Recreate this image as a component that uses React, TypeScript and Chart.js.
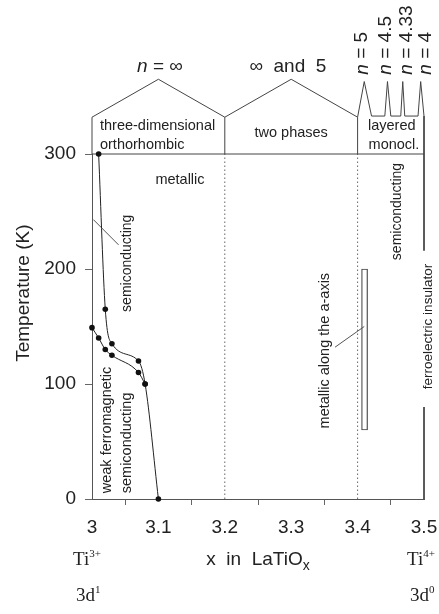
import React, { useEffect, useRef } from 'react';
import { Chart, registerables } from 'chart.js';

Chart.register(...registerables);

// ---- data ----
const xTickValues = [3, 3.1, 3.2, 3.3, 3.4, 3.5];
const yTickValues = [0, 100, 200, 300];

const upperX = [3.01, 3.02, 3.03, 3.07, 3.08, 3.1];
const upperT = [300, 165, 135, 120, 100, 0];
const lowerX = [3.0, 3.01, 3.02, 3.03, 3.07, 3.08];
const lowerT = [149, 140, 130, 125, 110, 100];

const boundaryX = [3.2, 3.4];
const boxX = [3.0, 3.0, 3.1, 3.2, 3.3, 3.4, 3.41, 3.421, 3.441, 3.445, 3.45, 3.465, 3.468, 3.471, 3.491, 3.495, 3.5, 3.5];
const boxT = [300, 332, 365, 332, 365, 332, 363, 333, 333, 363, 333, 333, 363, 333, 333, 363, 333, 300];
const boxTop = 332;
const topLineT = 300;

const barX = 3.4105;
const barRange = [60, 200];

const ferroX = 3.5;
const ferroUpper = [300, 216];
const ferroLower = [80, 0];

const leaderSemiX = [3.002, 3.04];
const leaderSemiT = [243, 221];
const leaderMetX = [3.366, 3.41];
const leaderMetT = [132, 150];

const nLabels = ['5', '4.5', '4.33', '4'];
const nLabelX = [3.407, 3.443, 3.474, 3.503];

const SANS = "'Liberation Sans', Arial, sans-serif";
const SERIF = "'Liberation Serif', 'Times New Roman', serif";
const TEXT = '#222';
const LINE = '#444';

function pts(xs: number[], ys: number[]) {
  return xs.map((x, i) => ({ x, y: ys[i] }));
}

function drawText(
  ctx: CanvasRenderingContext2D,
  s: string,
  x: number,
  y: number,
  font: string,
  align: CanvasTextAlign = 'center',
  rot = 0,
  baseline: CanvasTextBaseline = 'middle'
) {
  ctx.save();
  ctx.translate(x, y);
  ctx.rotate(rot);
  ctx.font = font;
  ctx.textAlign = align;
  ctx.textBaseline = baseline;
  ctx.fillStyle = TEXT;
  ctx.fillText(s, 0, 0);
  ctx.restore();
}

const annotations = {
  id: 'annotations',
  afterDatasetsDraw(chart: any) {
    const ctx: CanvasRenderingContext2D = chart.ctx;
    const xs = chart.scales.x;
    const ys = chart.scales.y;
    const X = (v: number) => xs.getPixelForValue(v);
    const Y = (v: number) => ys.getPixelForValue(v);
    const up = -Math.PI / 2;
    const f145 = `14.5px ${SANS}`;
    const f14 = `14px ${SANS}`;
    const f13 = `13.5px ${SANS}`;
    const f19 = `19px ${SANS}`;

    // y title
    drawText(ctx, 'Temperature (K)', ys.left + 24, Y(179), f19, 'center', up);

    // in-plot labels
    drawText(ctx, 'metallic', X(3.1325), Y(277), f145);
    drawText(ctx, 'semiconducting', X(3.0527), Y(205), f14, 'center', up);
    drawText(ctx, 'weak ferromagnetic', X(3.0226), Y(5), f145, 'left', up);
    drawText(ctx, 'semiconducting', X(3.0527), Y(5), f145, 'left', up);
    drawText(ctx, 'metallic along the a-axis', X(3.351), Y(129), f145, 'center', up);
    drawText(ctx, 'semiconducting', X(3.4593), Y(250), f14, 'center', up);
    drawText(ctx, 'ferroelectric insulator', X(3.506), Y(150), f13, 'center', up);

    // box labels
    drawText(ctx, 'three-dimensional', X(3.012), Y(324), f145, 'left');
    drawText(ctx, 'orthorhombic', X(3.012), Y(308), f145, 'left');
    drawText(ctx, 'two phases', X(3.3), Y(318), f145, 'center');
    drawText(ctx, 'layered', X(3.4157), Y(324), f145, 'left');
    drawText(ctx, 'monocl.', X(3.4165), Y(308), f145, 'left');

    // n = infinity
    ctx.save();
    ctx.font = `italic 19px ${SANS}`;
    const wn = ctx.measureText('n').width;
    ctx.font = f19;
    const wr = ctx.measureText(' = \u221E').width;
    ctx.restore();
    const cx = X(3.1024) - (wn + wr) / 2;
    drawText(ctx, 'n', cx, Y(376), `italic 19px ${SANS}`, 'left');
    drawText(ctx, ' = \u221E', cx + wn, Y(376), f19, 'left');
    drawText(ctx, '\u221E  and  5', X(3.295), Y(376), f19, 'center');

    // rotated n labels
    nLabels.forEach((lab, i) => {
      ctx.save();
      ctx.translate(X(nLabelX[i]), Y(369));
      ctx.rotate(up);
      ctx.fillStyle = TEXT;
      ctx.textBaseline = 'middle';
      ctx.textAlign = 'left';
      ctx.font = `italic 19px ${SANS}`;
      ctx.fillText('n', 0, 0);
      const w = ctx.measureText('n').width;
      ctx.font = f19;
      ctx.fillText(' = ' + lab, w, 0);
      ctx.restore();
    });

    // bottom labels
    const yAx = Y(-53);
    ctx.save();
    ctx.font = f19;
    const mainW = ctx.measureText('x  in  LaTiO').width;
    ctx.font = `14px ${SANS}`;
    const subW = ctx.measureText('x').width;
    ctx.restore();
    const sx = X(3.25) - (mainW + subW) / 2;
    drawText(ctx, 'x  in  LaTiO', sx, yAx, f19, 'left');
    drawText(ctx, 'x', sx + mainW, yAx + 6, `14px ${SANS}`, 'left');

    const ionLabel = (base: string, sup: string, xv: number, tv: number) => {
      const x0 = X(xv);
      const y0 = Y(tv);
      ctx.save();
      ctx.font = `19px ${SERIF}`;
      const w = ctx.measureText(base).width;
      ctx.restore();
      drawText(ctx, base, x0, y0, `19px ${SERIF}`, 'left', 0, 'alphabetic');
      drawText(ctx, sup, x0 + w, y0 - 8, `11px ${SERIF}`, 'left', 0, 'alphabetic');
    };
    ionLabel('Ti', '3+', 2.9714, -57.4);
    ionLabel('3d', '1', 2.9759, -88.8);
    ionLabel('Ti', '4+', 3.4744, -57.4);
    ionLabel('3d', '0', 3.4789, -88.8);
  },
};

export default function App() {
  const ref = useRef<HTMLCanvasElement>(null);

  useEffect(() => {
    if (!ref.current) return;
    const lineDs = (data: any[], extra: any = {}) => ({
      type: 'line',
      data,
      borderColor: LINE,
      borderWidth: 1,
      pointRadius: 0,
      fill: false,
      clip: false,
      spanGaps: false,
      ...extra,
    });

    const chart = new Chart(ref.current, {
      type: 'scatter',
      data: {
        datasets: [
          lineDs(pts(upperX, upperT), {
            borderColor: '#222',
            pointRadius: 2.8,
            pointBackgroundColor: '#111',
            pointBorderWidth: 0,
            cubicInterpolationMode: 'monotone',
          }),
          lineDs(pts(lowerX, lowerT), {
            borderColor: '#222',
            pointRadius: 2.8,
            pointBackgroundColor: '#111',
            pointBorderWidth: 0,
            cubicInterpolationMode: 'monotone',
          }),
          lineDs(pts(boxX, boxT)),
          lineDs([
            { x: boundaryX[0], y: topLineT },
            { x: boundaryX[0], y: boxTop },
            { x: boundaryX[0] + 0.0001, y: null },
            { x: boundaryX[1], y: topLineT },
            { x: boundaryX[1], y: boxTop },
          ]),
          lineDs([
            { x: xTickValues[0], y: topLineT },
            { x: xTickValues[xTickValues.length - 1], y: topLineT },
          ]),
          lineDs(
            [
              { x: boundaryX[0], y: 0 },
              { x: boundaryX[0], y: topLineT },
              { x: boundaryX[0] + 0.0001, y: null },
              { x: boundaryX[1], y: 0 },
              { x: boundaryX[1], y: topLineT },
            ],
            { borderDash: [1.5, 2.5], borderColor: '#666' }
          ),
          lineDs([
            { x: ferroX, y: ferroUpper[0] },
            { x: ferroX, y: ferroUpper[1] },
            { x: ferroX, y: null },
            { x: ferroX, y: ferroLower[0] },
            { x: ferroX, y: ferroLower[1] },
          ]),
          lineDs(pts(leaderSemiX, leaderSemiT), { borderColor: '#555' }),
          lineDs(pts(leaderMetX, leaderMetT), { borderColor: '#555' }),
          {
            type: 'bar',
            data: [{ x: barX, y: barRange }],
            backgroundColor: '#fff',
            borderColor: '#444',
            borderWidth: 1.2,
            borderSkipped: false,
            barThickness: 6,
            grouped: false,
            clip: false,
          },
        ] as any,
      },
      options: {
        animation: false,
        responsive: false,
        devicePixelRatio: 1,
        layout: { padding: { top: 154, right: 15, left: 0, bottom: 0 } },
        plugins: { legend: { display: false }, tooltip: { enabled: false } },
        scales: {
          x: {
            type: 'linear',
            min: 3,
            max: 3.5,
            offset: false,
            afterBuildTicks: (s: any) => {
              s.ticks = xTickValues.map((v) => ({ value: v }));
            },
            afterFit: (s: any) => {
              s.height = 115;
              s.paddingLeft = 0;
              s.paddingRight = 0;
            },
            ticks: {
              color: TEXT,
              font: { family: SANS, size: 19 },
              padding: 11,
              maxRotation: 0,
              autoSkip: false,
              callback: (v: any) => String(Math.round(Number(v) * 10) / 10),
            },
            grid: { display: true, drawOnChartArea: false, drawTicks: true, tickLength: 6, color: '#666' },
            border: { display: true, color: '#555', width: 1 },
          },
          y: {
            type: 'linear',
            min: 0,
            max: 300,
            afterBuildTicks: (s: any) => {
              s.ticks = yTickValues.map((v) => ({ value: v }));
            },
            afterFit: (s: any) => {
              s.width = 92;
              s.paddingTop = 0;
              s.paddingBottom = 0;
            },
            ticks: {
              color: TEXT,
              font: { family: SANS, size: 19 },
              padding: 9,
              autoSkip: false,
            },
            grid: { display: true, drawOnChartArea: false, drawTicks: true, tickLength: 7, color: '#666' },
            border: { display: true, color: '#555', width: 1 },
          },
        },
      },
      plugins: [annotations],
    } as any);
    return () => chart.destroy();
  }, []);

  return (
    <div style={{ position: 'absolute', left: 0, top: 0, width: 439, height: 614, background: '#fff' }}>
      <canvas ref={ref} width={439} height={614} style={{ width: 439, height: 614, display: 'block' }} />
    </div>
  );
}
